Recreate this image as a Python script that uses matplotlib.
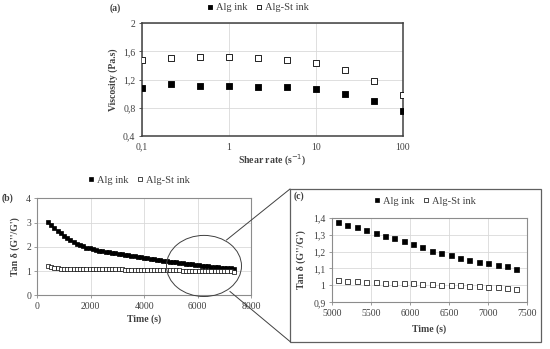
import matplotlib
matplotlib.use("Agg")
import matplotlib.pyplot as plt
from matplotlib.patches import Ellipse, Polygon
from matplotlib.ticker import FixedLocator, FuncFormatter

plt.rcParams['font.family'] = ['Liberation Serif', 'DejaVu Serif']

# ---------------- data ----------------
shear_rate = [0.1, 0.215, 0.464, 1, 2.15, 4.64, 10, 21.5, 46.4, 100]
visc_alg = [1.084, 1.135, 1.11, 1.107, 1.10, 1.088, 1.06, 1.0, 0.893, 0.75]
visc_algst = [1.48, 1.506, 1.515, 1.515, 1.51, 1.48, 1.43, 1.33, 1.18, 0.974]

time_b = [400, 520, 640, 760, 880, 1000, 1120, 1240, 1360, 1480,
          1600, 1720, 1840, 1960, 2080, 2200, 2320, 2440, 2560, 2680,
          2800, 2920, 3040, 3160, 3280, 3400, 3520, 3640, 3760, 3880,
          4000, 4120, 4240, 4360, 4480, 4600, 4720, 4840, 4960,
          5080, 5200, 5320, 5440, 5560, 5680, 5800, 5920, 6040, 6160,
          6280, 6400, 6520, 6640, 6760, 6880, 7000, 7120, 7240, 7360]
tan_alg_b = [3.02, 2.90, 2.78, 2.66, 2.55, 2.45, 2.36, 2.28, 2.20, 2.13,
             2.07, 2.02, 1.97, 1.93, 1.90, 1.87, 1.84, 1.81, 1.79, 1.77,
             1.75, 1.73, 1.71, 1.69, 1.67, 1.65, 1.63, 1.61, 1.59, 1.57,
             1.55, 1.53, 1.51, 1.49, 1.47, 1.45, 1.43, 1.41, 1.39,
             1.372, 1.357, 1.343, 1.325, 1.309, 1.29, 1.282, 1.26, 1.244, 1.225,
             1.205, 1.193, 1.177, 1.163, 1.148, 1.14, 1.13, 1.122, 1.113, 1.099]
tan_algst_b = [1.22, 1.16, 1.13, 1.11, 1.10, 1.095, 1.09, 1.09, 1.085, 1.085,
               1.08, 1.08, 1.08, 1.078, 1.076, 1.075, 1.074, 1.072, 1.07, 1.07,
               1.068, 1.066, 1.065, 1.064, 1.062, 1.06, 1.058, 1.057, 1.055, 1.054,
               1.052, 1.05, 1.048, 1.047, 1.045, 1.043, 1.04, 1.038, 1.035,
               1.032, 1.026, 1.024, 1.022, 1.02, 1.016, 1.016, 1.014, 1.012, 1.01,
               1.006, 1.004, 1.002, 1.0, 0.996, 0.994, 0.99, 0.988, 0.986, 0.98]

time_c = [5080, 5200, 5320, 5440, 5560, 5680, 5800, 5920, 6040, 6160,
          6280, 6400, 6520, 6640, 6760, 6880, 7000, 7120, 7240, 7360]
tan_alg_c = [1.372, 1.357, 1.343, 1.325, 1.309, 1.29, 1.282, 1.26, 1.244, 1.225,
             1.205, 1.193, 1.177, 1.163, 1.148, 1.14, 1.13, 1.122, 1.113, 1.099]
tan_algst_c = [1.032, 1.026, 1.024, 1.022, 1.02, 1.016, 1.016, 1.014, 1.012, 1.01,
               1.006, 1.004, 1.002, 1.0, 0.996, 0.994, 0.99, 0.988, 0.986, 0.98]

labels = ["Alg ink", "Alg-St ink"]
visc_yticks = [0.4, 0.8, 1.2, 1.6, 2.0]
shear_xticks = [0.1, 1, 10, 100]
b_xticks = [0, 2000, 4000, 6000, 8000]
b_yticks = [0, 1, 2, 3, 4]
c_xticks = [5000, 5500, 6000, 6500, 7000, 7500]
c_yticks = [0.9, 1.0, 1.1, 1.2, 1.3, 1.4]

# ---------------- layout helpers ----------------
W, H = 550, 349
fig = plt.figure(figsize=(W / 100, H / 100), dpi=100)


def rect(l, t, r, b):
    return [l / W, 1 - b / H, (r - l) / W, (b - t) / H]


def comma(v, pos=None):
    s = ("%g" % round(v, 3))
    return s.replace(".", ",")


GRID = "#d9d9d9"
TXT = "#404040"
FS = 7
LFS = 7.5
LEG = dict(ncol=2, frameon=False, fontsize=LFS, handlelength=0.6,
           handletextpad=0.25, columnspacing=0.8, borderpad=0.1,
           labelcolor=TXT)


def style(ax, spine_color):
    for s in ax.spines.values():
        s.set_color(spine_color)
        s.set_linewidth(0.8)
    ax.grid(True, color=GRID, linewidth=0.6)
    ax.set_axisbelow(True)
    ax.tick_params(labelsize=FS, length=2.5, width=0.6,
                   direction="out", pad=2)
    ax.tick_params(axis="both", colors=spine_color, labelcolor=TXT)


# ---------------- overlay for inset box ----------------
over = fig.add_axes([0, 0, 1, 1], zorder=0)
over.set_xlim(0, W)
over.set_ylim(H, 0)
over.axis("off")
box = Polygon([(290, 189), (541, 189), (541, 341.5), (290, 341.5)],
              closed=True, fill=False, edgecolor="#606060", linewidth=0.9)
over.add_patch(box)

# ---------------- panel (a) ----------------
axa = fig.add_axes(rect(141.7, 23.3, 402.7, 135.7), zorder=2)
axa.scatter(shear_rate, visc_alg, marker="s", s=20, c="black",
            edgecolors="black", linewidths=0.6, zorder=3, label=labels[0])
axa.scatter(shear_rate, visc_algst, marker="s", s=20, c="white",
            edgecolors="black", linewidths=0.6, zorder=3, label=labels[1])
axa.set_xscale("log")
axa.set_xlim(0.1, 100)
axa.set_ylim(0.4, 2.0)
axa.xaxis.set_major_locator(FixedLocator(shear_xticks))
axa.xaxis.set_minor_locator(FixedLocator([]))
axa.xaxis.set_major_formatter(FuncFormatter(comma))
axa.yaxis.set_major_locator(FixedLocator(visc_yticks))
axa.yaxis.set_major_formatter(FuncFormatter(comma))
style(axa, "#404040")
axa.tick_params(axis="x", length=0, pad=5)
axa.set_ylabel("Viscosity (Pa.s)", fontsize=FS, fontweight="bold",
               color=TXT, labelpad=4)
axa.set_xlabel("Shear rate (s$^{-1}$)", fontsize=FS, fontweight="bold",
               color=TXT, labelpad=1)
for sp in axa.spines.values():
    sp.set_linewidth(1.1)
axa.legend(loc="center", bbox_to_anchor=(258 / W, 1 - 7 / H),
           bbox_transform=fig.transFigure, markerscale=0.75, **LEG)
fig.text(115 / W, 1 - 8 / H, "(a)", fontsize=FS, fontweight="bold",
         ha="center", va="center", color=TXT)

# ---------------- panel (b) ----------------
axb = fig.add_axes(rect(37.3, 198.3, 251, 295.3), zorder=2)
axb.plot(time_b, tan_alg_b, linestyle="none", marker="s", markersize=3.2,
         markerfacecolor="black", markeredgecolor="black",
         markeredgewidth=0.5, label=labels[0], zorder=3)
axb.plot(time_b, tan_algst_b, linestyle="none", marker="s", markersize=3.2,
         markerfacecolor="white", markeredgecolor="black",
         markeredgewidth=0.5, label=labels[1], zorder=3)
axb.set_xlim(0, 8000)
axb.set_ylim(0, 4)
axb.xaxis.set_major_locator(FixedLocator(b_xticks))
axb.yaxis.set_major_locator(FixedLocator(b_yticks))
style(axb, "#8c8c8c")
axb.set_xlabel("Time (s)", fontsize=FS, fontweight="bold", color=TXT,
               labelpad=3)
axb.set_ylabel("Tan δ (G''/G')", fontsize=FS, fontweight="bold",
               color=TXT, labelpad=4)
axb.legend(loc="center", bbox_to_anchor=(139 / W, 1 - 180 / H),
           bbox_transform=fig.transFigure, markerscale=0.9, **LEG)
fig.text(8 / W, 1 - 198 / H, "(b)", fontsize=FS, fontweight="bold",
         ha="center", va="center", color=TXT)
ell = Ellipse((6240, 1.21), 2808, 2.52, fill=False, edgecolor="#404040",
              linewidth=0.7, clip_on=False, zorder=4)
axb.add_patch(ell)

# connector lines (drawn on top layer)
top_layer = fig.add_axes([0, 0, 1, 1], zorder=5)
top_layer.set_xlim(0, W)
top_layer.set_ylim(H, 0)
top_layer.axis("off")
top_layer.plot([226.5, 290], [240, 189], color="#404040", linewidth=0.7)
top_layer.plot([230, 290], [291.5, 341.5], color="#404040", linewidth=0.7)

# ---------------- panel (c) ----------------
axc = fig.add_axes(rect(331.7, 217.7, 527.3, 302.3), zorder=2)
axc.plot(time_c, tan_alg_c, linestyle="none", marker="s", markersize=3.6,
         markerfacecolor="black", markeredgecolor="black",
         markeredgewidth=0.5, label=labels[0], zorder=3)
axc.plot(time_c, tan_algst_c, linestyle="none", marker="s", markersize=3.6,
         markerfacecolor="white", markeredgecolor="black",
         markeredgewidth=0.5, label=labels[1], zorder=3)
axc.set_xlim(5000, 7500)
axc.set_ylim(0.9, 1.4)
axc.xaxis.set_major_locator(FixedLocator(c_xticks))
axc.yaxis.set_major_locator(FixedLocator(c_yticks))
axc.yaxis.set_major_formatter(FuncFormatter(comma))
style(axc, "#8c8c8c")
axc.set_xlabel("Time (s)", fontsize=FS, fontweight="bold", color=TXT,
               labelpad=5)
axc.set_ylabel("Tan δ (G''/G')", fontsize=FS, fontweight="bold",
               color=TXT, labelpad=5)
axc.legend(loc="center", bbox_to_anchor=(425 / W, 1 - 201 / H),
           bbox_transform=fig.transFigure, markerscale=0.8, **LEG)
fig.text(299 / W, 1 - 196 / H, "(c)", fontsize=FS, fontweight="bold",
         ha="center", va="center", color=TXT)

fig.savefig("out.png", dpi=100, facecolor="white")
